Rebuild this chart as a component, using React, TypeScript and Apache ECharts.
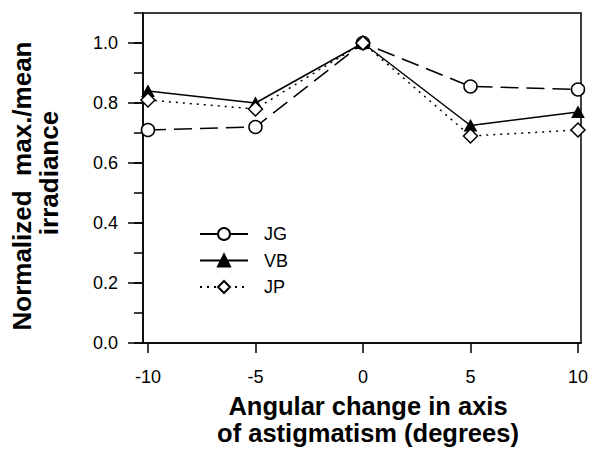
import React, { useEffect, useRef } from "react";
import * as echarts from "echarts";

const xValues = [-10, -5, 0, 5, 10];
const jgValues = [0.71, 0.72, 1.0, 0.855, 0.845];
const vbValues = [0.84, 0.8, 1.0, 0.725, 0.77];
const jpValues = [0.81, 0.78, 1.0, 0.69, 0.71];
const xTicks = [-10, -5, 0, 5, 10];
const yMajorTicks = [0, 0.2, 0.4, 0.6, 0.8, 1.0];
const yAllTicks = [0, 0.1, 0.2, 0.3, 0.4, 0.5, 0.6, 0.7, 0.8, 0.9, 1.0, 1.1];

const X_MIN = -10.23;
const X_MAX = 10.14;
const FONT = "'Liberation Sans', Arial, Helvetica, sans-serif";

export default function App() {
  const ref = useRef<HTMLDivElement>(null);
  useEffect(() => {
    if (!ref.current) return;
    const chart = echarts.init(ref.current, null, { renderer: "svg" });
    const pts = (vals: number[]) => xValues.map((x, i) => [x, vals[i]]);
    const titleStyle = { fontFamily: FONT, fontSize: 26, fontWeight: "bold", color: "#000", lineHeight: 27 };
    chart.setOption({
      animation: false,
      backgroundColor: "#fff",
      textStyle: { fontFamily: FONT, color: "#000" },
      grid: {
        left: 143,
        right: 8,
        top: 13,
        bottom: 107,
        show: true,
        borderColor: "#000",
        borderWidth: 1.5,
        backgroundColor: "transparent",
      },
      legend: {
        orient: "vertical",
        left: 199,
        top: 225,
        padding: 0,
        itemWidth: 48,
        itemHeight: 15,
        itemGap: 8.5,
        formatter: "{n|{name}}",
        textStyle: {
          fontFamily: FONT,
          fontSize: 18,
          color: "#000",
          rich: { n: { fontFamily: FONT, fontSize: 18, color: "#000", padding: [0, 0, 0, 11] } },
        },
        data: [
          { name: "JG", lineStyle: { type: "solid" } },
          { name: "VB" },
          { name: "JP" },
        ],
      },
      xAxis: {
        type: "value",
        min: X_MIN,
        max: X_MAX,
        name: "Angular change in axis\nof astigmatism (degrees)",
        nameLocation: "middle",
        nameGap: 49,
        nameTextStyle: {
          fontFamily: FONT,
          fontSize: 25.5,
          fontWeight: "bold",
          color: "#000",
          lineHeight: 27,
          padding: [0, 0, 0, 12],
        },
        axisLine: { show: true, onZero: false, lineStyle: { color: "#000", width: 1.5 } },
        axisTick: { show: true, length: 10, customValues: xTicks, lineStyle: { color: "#000", width: 1.5 } },
        axisLabel: {
          customValues: xTicks,
          margin: 25,
          fontSize: 18,
          color: "#000",
          fontFamily: FONT,
        },
        splitLine: { show: false },
      },
      yAxis: {
        type: "value",
        min: 0,
        max: 1.1,
        position: "left",
        name: "{a|Normalized  max./mean}\n{b|irradiance}",
        nameLocation: "middle",
        nameGap: 81,
        nameTextStyle: {
          ...titleStyle,
          rich: {
            a: { ...titleStyle, padding: [0, 16, 0, 0] },
            b: { ...titleStyle, padding: [0, 0, 0, 10] },
          },
        },
        axisLine: { show: true, onZero: false, lineStyle: { color: "#000", width: 1.5 } },
        axisTick: { show: true, length: 9, customValues: yAllTicks, lineStyle: { color: "#000", width: 1.5 } },
        axisLabel: {
          customValues: yMajorTicks,
          margin: 25,
          fontSize: 18,
          color: "#000",
          fontFamily: FONT,
          formatter: (v: number) => v.toFixed(1),
        },
        splitLine: { show: false },
      },
      series: [
        {
          name: "major ticks",
          type: "custom",
          silent: true,
          clip: false,
          data: yMajorTicks.map((v) => [X_MIN, v]),
          encode: { x: 0, y: 1 },
          renderItem: (_params: any, api: any) => {
            const p = api.coord([api.value(0), api.value(1)]);
            return {
              type: "line",
              shape: { x1: p[0] - 15, y1: p[1], x2: p[0], y2: p[1] },
              style: { stroke: "#000", lineWidth: 1.5 },
            };
          },
          z: 1,
        },
        {
          name: "JG",
          type: "line",
          data: pts(jgValues),
          symbol: "circle",
          symbolSize: 13,
          lineStyle: { color: "#000", width: 1.5, type: [18, 8] },
          itemStyle: { color: "#fff", borderColor: "#000", borderWidth: 1.5 },
          z: 2,
        },
        {
          name: "VB",
          type: "line",
          data: pts(vbValues),
          symbol: "triangle",
          symbolSize: [12, 11],
          lineStyle: { color: "#000", width: 1.5, type: "solid" },
          itemStyle: { color: "#000", borderColor: "#000", borderWidth: 1 },
          z: 3,
        },
        {
          name: "JP",
          type: "line",
          data: pts(jpValues),
          symbol: "diamond",
          symbolSize: [14, 14],
          lineStyle: { color: "#000", width: 1.5, type: [2, 5] },
          itemStyle: { color: "#fff", borderColor: "#000", borderWidth: 1.5 },
          z: 4,
        },
      ],
    });
    return () => chart.dispose();
  }, []);
  return (
    <div
      ref={ref}
      style={{ position: "fixed", left: 0, top: 0, width: 591, height: 451 }}
    />
  );
}
